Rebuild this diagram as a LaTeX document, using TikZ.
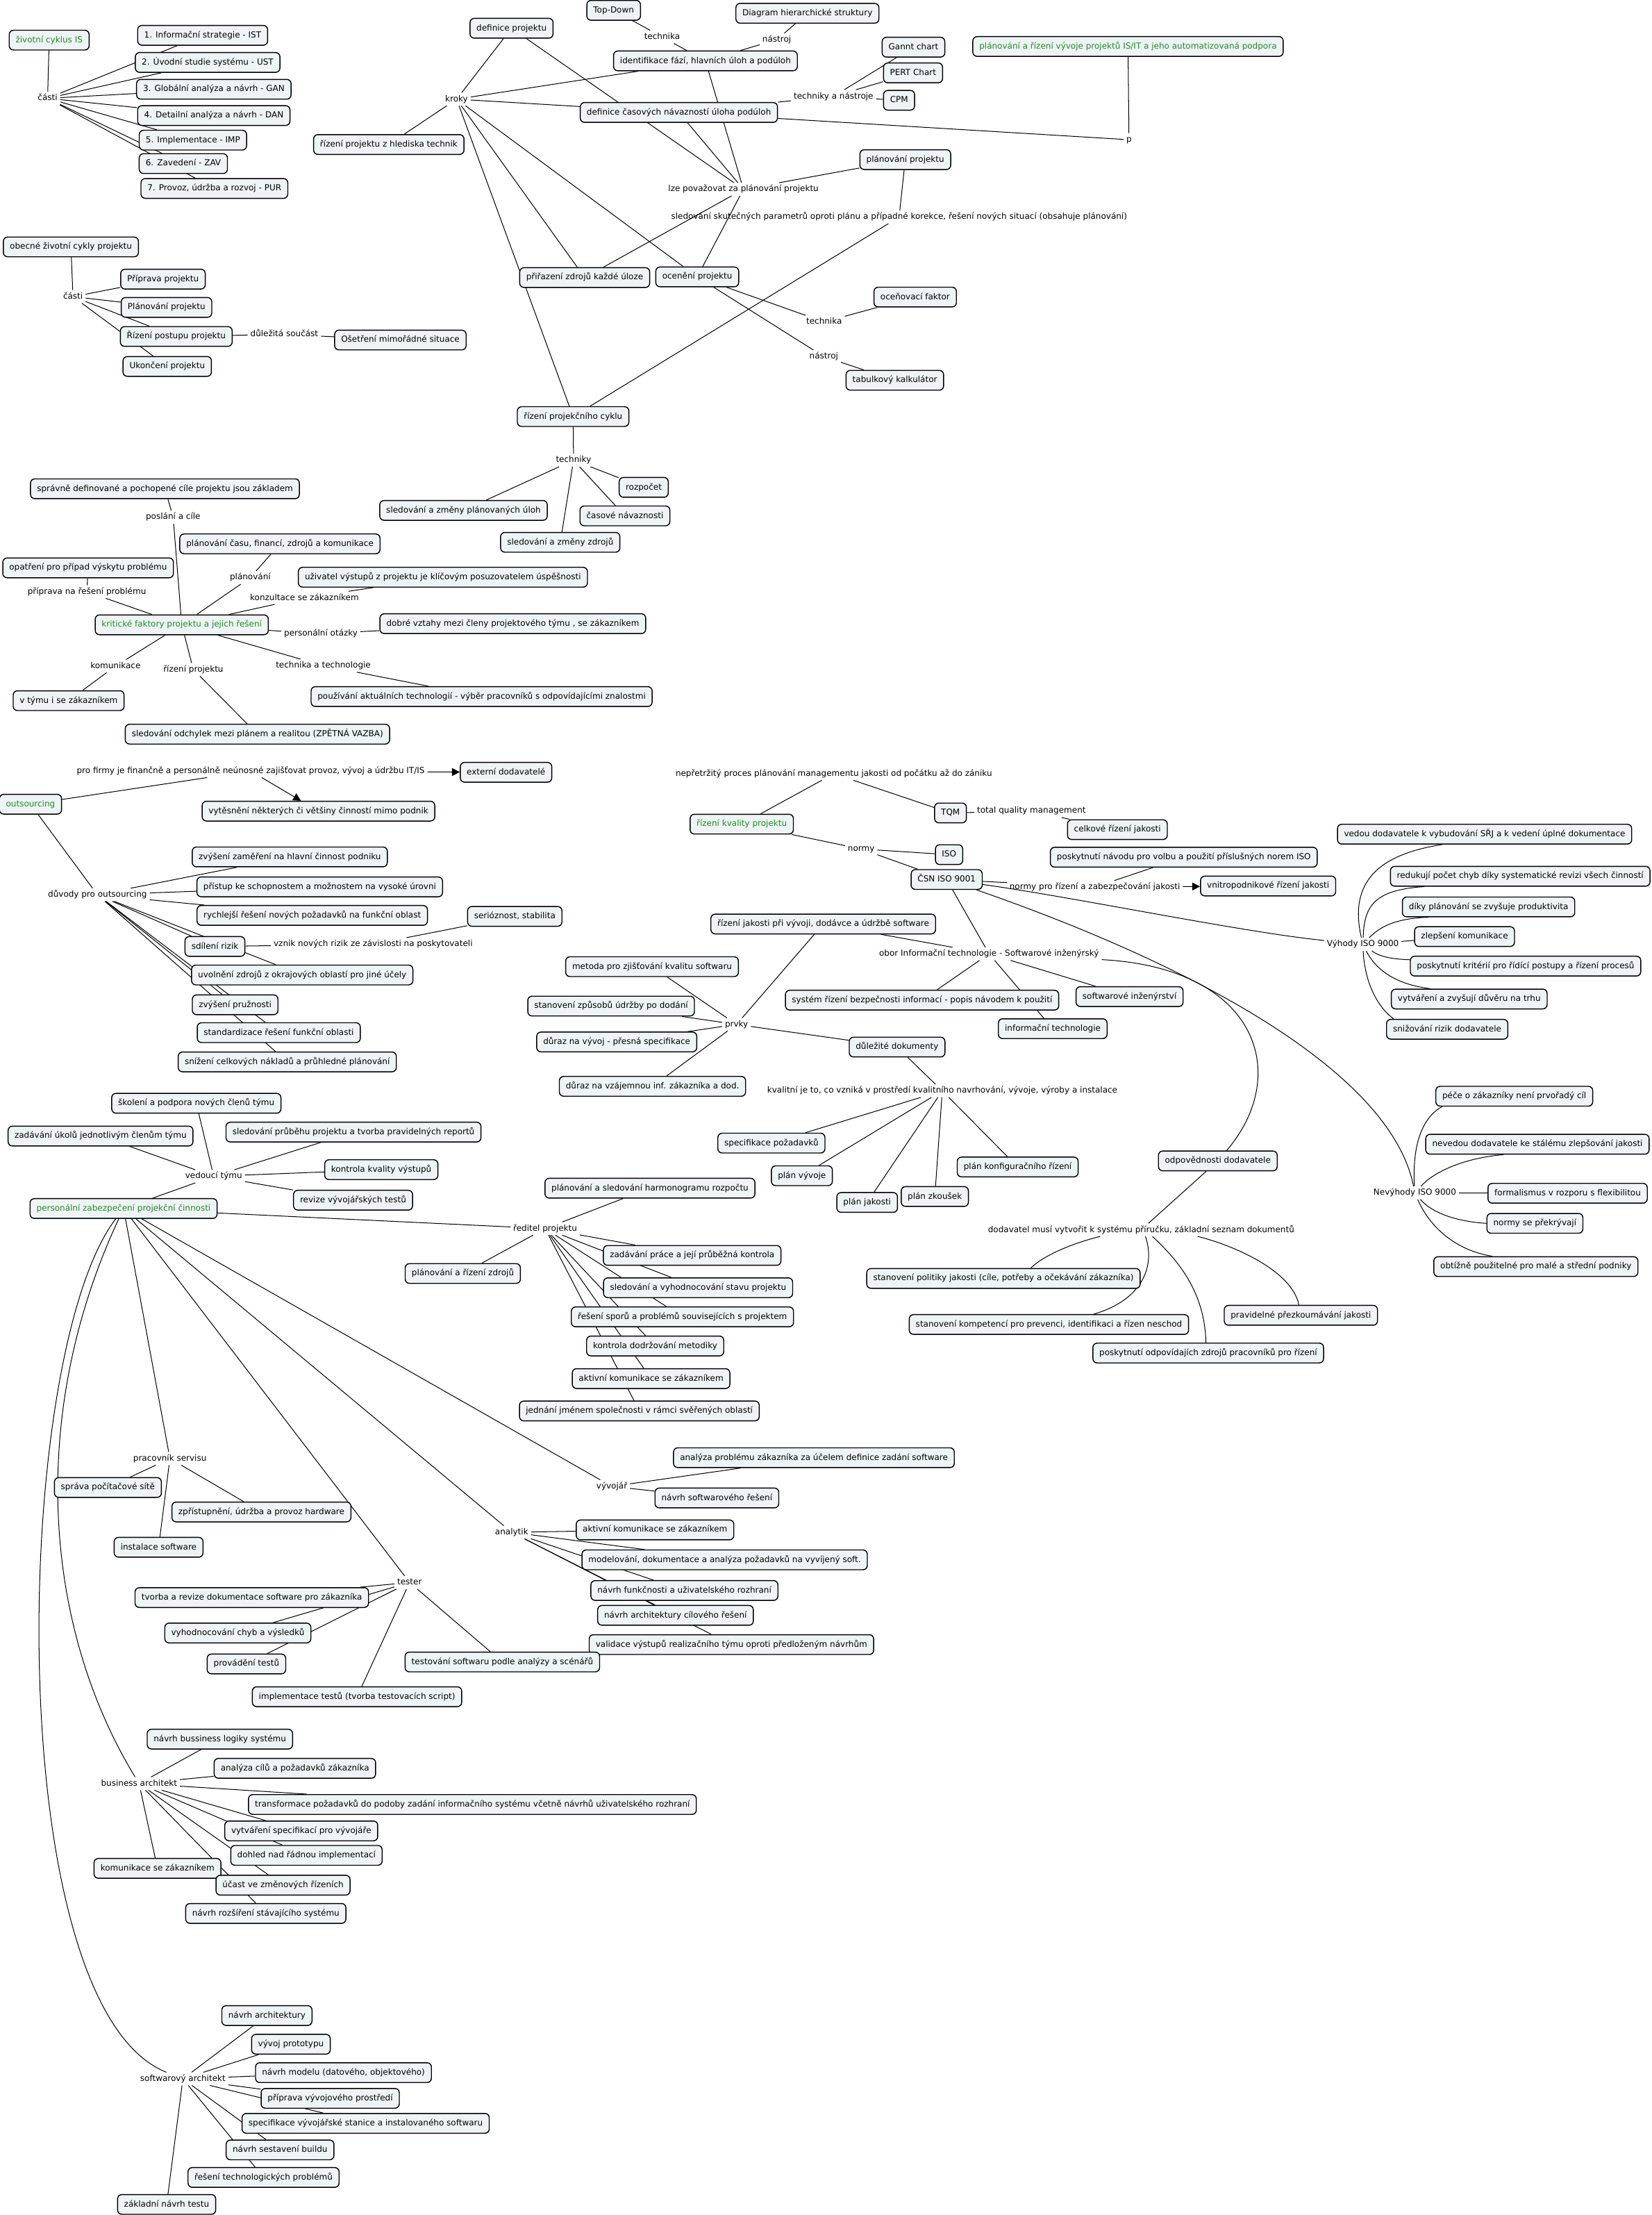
\documentclass[tikz,border=0pt]{standalone}
\usepackage{fontspec}
\setmainfont{DejaVu Sans}
\usetikzlibrary{arrows.meta}
\definecolor{boxfill}{RGB}{238,244,245}
\definecolor{rootgreen}{RGB}{34,139,34}
\newcommand\mapfont{\fontsize{5.9}{7}\selectfont}
\pgfdeclarelayer{edgelayer}
\pgfsetlayers{edgelayer,main}
\tikzset{
  box/.style={draw=black, line width=0.7pt, rounded corners=3pt, fill=boxfill, inner xsep=4.6pt, inner ysep=0pt, minimum height=14pt, text height=4.6pt, text depth=1.3pt, font=\mapfont},
  root/.style={box, text=rootgreen},
  lbl/.style={inner xsep=1.8pt, inner ysep=1.5pt, text height=4.6pt, text depth=1.3pt, font=\mapfont},
  conn/.style={line width=0.5pt, black},
  arr/.style={conn, -{Triangle[length=5.5pt,width=5.5pt]}},
}
\begin{document}
\begin{tikzpicture}[x=1pt,y=-1pt]
\useasboundingbox (0,0) rectangle (1169.7,1568);
% ---------- A
\node[root] (zcis) at (34.8,28.4) {životní cyklus IS};
\node[lbl] (casti1) at (33.7,69.6) {části};
\node[box] (b1) at (143.5,25) {1. Informační strategie - IST};
\node[box] (b2) at (147,44.2) {2. Úvodní studie systému - UST};
\node[box] (b3) at (151.4,63.2) {3. Globální analýza a návrh - GAN};
\node[box] (b4) at (151.4,81.8) {4. Detailní analýza a návrh - DAN};
\node[box] (b5) at (136.6,99.2) {5. Implementace - IMP};
\node[box] (b6) at (129.8,115.8) {6. Zavedení - ZAV};
\node[box] (b7) at (151.8,133.4) {7. Provoz, údržba a rozvoj - PUR};
% ---------- B
\node[box] (obec) at (50.2,174.8) {obecné životní cykly projektu};
\node[lbl] (casti2) at (51.7,210) {části};
\node[box] (prip) at (115.4,197.6) {Příprava projektu};
\node[box] (plan) at (117.9,217.6) {Plánování projektu};
\node[box] (rizpost) at (124.8,238.2) {Řízení postupu projektu};
\node[box] (ukon) at (118.4,259.4) {Ukončení projektu};
\node[lbl] (dulsouc) at (201.3,236.7) {důležitá součást};
\node[box] (oset) at (283.5,240.7) {Ošetření mimořádné situace};
% ---------- C
\node[box] (defproj) at (362.2,20) {definice projektu};
\node[lbl] (kroky) at (323.3,70.2) {kroky};
\node[box] (riztech) at (275.3,102.3) {řízení projektu z hlediska technik};
\node[box] (topdown) at (434.5,7.3) {Top-Down};
\node[lbl] (tech1) at (468.8,26.1) {technika};
\node[box] (ident) at (499.5,43.1) {identifikace fází, hlavních úloh a podúloh};
\node[lbl] (nastr1) at (550,28.1) {nástroj};
\node[box] (diag) at (571.7,9.4) {Diagram hierarchické struktury};
\node[box] (defcas) at (480.7,79.6) {definice časových návazností úloha podúloh};
\node[box] (gannt) at (646.8,33.4) {Gannt chart};
\node[box] (pert) at (646.5,51.6) {PERT Chart};
\node[box] (cpm) at (636.6,71) {CPM};
\node[lbl] (tan) at (590.2,68.2) {techniky a nástroje};
\node[root] (root2) at (798.7,32.9) {plánování a řízení vývoje projektů IS/IT a jeho automatizovaná podpora};
\node[lbl] (p) at (799.4,98.9) {p};
\node[box] (planproj) at (641,113) {plánování projektu};
\node[lbl] (lze) at (526.4,134) {lze považovat za plánování projektu};
\node[lbl] (sled) at (636.6,153.7) {sledování skutečných parametrů oproti plánu a případné korekce, řešení nových situací (obsahuje plánování)};
\node[box] (prirz) at (414,196.5) {přiřazení zdrojů každé úloze};
\node[box] (ocen) at (493.7,196) {ocenění projektu};
\node[box] (ocenf) at (648,210.3) {oceňovací faktor};
\node[lbl] (tech2) at (583.5,227.9) {technika};
\node[lbl] (nastr2) at (583.3,252.4) {nástroj};
\node[box] (tabk) at (633.6,269.2) {tabulkový kalkulátor};
\node[box] (rpc) at (405.8,294.9) {řízení projekčního cyklu};
\node[lbl] (techniky) at (406.1,325.8) {techniky};
\node[box] (rozp) at (455.8,345) {rozpočet};
\node[box] (splu) at (328.2,361.3) {sledování a změny plánovaných úloh};
\node[box] (casn) at (442.5,365.2) {časové návaznosti};
\node[box] (szz) at (396.7,383.9) {sledování a změny zdrojů};
% ---------- D
\node[box] (sprav) at (116.8,346) {správně definované a pochopené cíle projektu jsou základem};
\node[lbl] (posl) at (122.6,366.1) {poslání a cíle};
\node[box] (plcas) at (198.2,385) {plánování času, financí, zdrojů a komunikace};
\node[box] (opat) at (62.4,402) {opatření pro případ výskytu problému};
\node[lbl] (plnl) at (177.2,408.9) {plánování};
\node[box] (uziv) at (313.6,408.6) {uživatel výstupů z projektu je klíčovým posuzovatelem úspěšnosti};
\node[lbl] (prpr) at (61.5,418.9) {příprava na řešení problému};
\node[lbl] (konz) at (215.6,423.2) {konzultace se zákazníkem};
\node[root] (krit) at (128.7,442.3) {kritické faktory projektu a jejich řešení};
\node[box] (dobr) at (363.1,441.5) {dobré vztahy mezi členy projektového týmu , se zákazníkem};
\node[lbl] (pers1) at (227.2,448.6) {personální otázky};
\node[lbl] (komu) at (81.8,471.5) {komunikace};
\node[lbl] (rizp) at (136.9,474) {řízení projektu};
\node[lbl] (tt) at (228.9,471.2) {technika a technologie};
\node[box] (vtym) at (48.6,496) {v týmu i se zákazníkem};
\node[box] (pouz) at (341,493.1) {používání aktuálních technologií - výběr pracovníků s odpovídajícími znalostmi};
\node[box] (sodch) at (182.3,519.7) {sledování odchylek mezi plánem a realitou (ZPĚTNÁ VAZBA)};
% ---------- E
\node[lbl] (prof) at (177.5,545.8) {pro firmy je finančně a personálně neúnosné zajišťovat provoz, vývoj a údržbu IT/IS};
\node[box] (extd) at (358.3,546.7) {externí dodavatelé};
\node[box] (vyt) at (225.5,574.2) {vytěsnění některých či většiny činností mimo podnik};
\node[root] (outs) at (21.6,569.3) {outsourcing};
\node[lbl] (duv) at (69,633.4) {důvody pro outsourcing};
\node[box] (zvz) at (205.2,606.6) {zvýšení zaměření na hlavní činnost podniku};
\node[box] (pris) at (226.4,627.8) {přístup ke schopnostem a možnostem na vysoké úrovni};
\node[box] (rych) at (221.1,648) {rychlejší řešení nových požadavků na funkční oblast};
\node[box] (serz) at (364.5,648.7) {serióznost, stabilita};
\node[box] (sdil) at (152.2,670) {sdílení rizik};
\node[lbl] (vzn) at (264.2,668.4) {vznik nových rizik ze závislosti na poskytovateli};
\node[box] (uvol) at (214,690.2) {uvolnění zdrojů z okrajových oblastí pro jiné účely};
\node[box] (zvpr) at (166.5,711.3) {zvýšení pružnosti};
\node[box] (stdz) at (197.4,731) {standardizace řešení funkční oblasti};
\node[box] (sniz) at (203.4,751.7) {snížení celkových nákladů a průhledné plánování};
% ---------- F
\node[lbl] (nepr) at (590.4,547.7) {nepřetržitý proces plánování managementu jakosti od počátku až do zániku};
\node[root] (rkp) at (525.2,583.4) {řízení kvality projektu};
\node[box] (tqm) at (673,575.5) {TQM};
\node[lbl] (tqmt) at (730.3,574.1) {total quality management};
\node[box] (celk) at (791.2,587.3) {celkové řízení jakosti};
\node[lbl] (normy) at (609.8,601) {normy};
\node[box] (iso) at (672,605) {ISO};
\node[box] (csn) at (670.3,622.6) {ČSN ISO 9001};
\node[box] (posn) at (838.2,606.8) {poskytnutí návodu pro volbu a použití příslušných norem ISO};
\node[lbl] (npr) at (775.2,628) {normy pro řízení a zabezpečování jakosti};
\node[box] (vnit) at (897.9,627.2) {vnitropodnikové řízení jakosti};
\node[box] (rjv) at (582.9,654.1) {řízení jakosti při vývoji, dodávce a údržbě software};
\node[lbl] (obor) at (700.3,675.2) {obor Informační technologie - Softwarové inženýrský};
\node[box] (sysr) at (652.9,708) {systém řízení bezpečnosti informací - popis návodem k použití};
\node[box] (swin) at (799.8,705.5) {softwarové inženýrství};
\node[box] (inft) at (745.4,728.2) {informační technologie};
\node[lbl] (prvky) at (521.5,725.2) {prvky};
\node[box] (duld) at (635.2,741.2) {důležité dokumenty};
\node[lbl] (kval) at (667.2,772.2) {kvalitní je to, co vzniká v prostředí kvalitního navrhování, vývoje, výroby a instalace};
\node[box] (specp) at (546.2,809.2) {specifikace požadavků};
\node[box] (plvy) at (567.8,832.3) {plán vývoje};
\node[box] (plkon) at (720.6,826.1) {plán konfiguračního řízení};
\node[box] (pljak) at (614,851.2) {plán jakosti};
\node[box] (plzk) at (661.9,847) {plán zkoušek};
\node[box] (meto) at (461.7,684.3) {metoda pro zjišťování kvalitu softwaru};
\node[box] (stzu) at (432.7,712.2) {stanovení způsobů údržby po dodání};
\node[box] (durv) at (436.7,737.6) {důraz na vývoj - přesná specifikace};
\node[box] (durz) at (462,769) {důraz na vzájemnou inf. zákazníka a dod.};
\node[lbl] (vyh) at (965,668.5) {Výhody ISO 9000};
\node[box] (vedou) at (1051.2,590.5) {vedou dodavatele k vybudování SŘJ a k vedení úplné dokumentace};
\node[box] (reduk) at (1076.4,620.3) {redukují počet chyb díky systematické revizi všech činností};
\node[box] (dikyp) at (1054,642) {díky plánování se zvyšuje produktivita};
\node[box] (zlep) at (1037,663) {zlepšení komunikace};
\node[box] (poskr) at (1080.2,683.9) {poskytnutí kritérií pro řídící postupy a řízení procesů};
\node[box] (vytv) at (1040.3,707.2) {vytváření a zvyšují důvěru na trhu};
\node[box] (snir) at (1024.7,728.6) {snižování rizik dodavatele};
\node[box] (pece) at (1072.2,776) {péče o zákazníky není prvořadý cíl};
\node[box] (nevd) at (1088.6,810) {nevedou dodavatele ke stálému zlepšování jakosti};
\node[lbl] (nevy) at (1001.8,844.4) {Nevýhody ISO 9000};
\node[box] (form) at (1110,844.7) {formalismus v rozporu s flexibilitou};
\node[box] (nsp) at (1086.8,866) {normy se překrývají};
\node[box] (obti) at (1087.5,896.6) {obtížně použitelné pro malé a střední podniky};
\node[box] (odpd) at (862.3,821.8) {odpovědnosti dodavatele};
\node[lbl] (dodm) at (808,870.6) {dodavatel musí vytvořit k systému příručku, základní seznam dokumentů};
\node[box] (stpol) at (710.5,905) {stanovení politiky jakosti (cíle, potřeby a očekávání zákazníka)};
\node[box] (stkom) at (742.7,937.6) {stanovení kompetencí pro prevenci, identifikaci a řízen neschod};
\node[box] (prav) at (921.1,931.1) {pravidelné přezkoumávání jakosti};
\node[box] (poso) at (855.5,957.8) {poskytnutí odpovídajích zdrojů pracovníků pro řízení};
% ---------- G
\node[box] (skol) at (139,781) {školení a podpora nových členů týmu};
\node[box] (zaduk) at (71.2,804.2) {zadávání úkolů jednotlivým členům týmu};
\node[box] (sledpr) at (250.3,801.4) {sledování průběhu projektu a tvorba pravidelných reportů};
\node[box] (kontk) at (270,828) {kontrola kvality výstupů};
\node[lbl] (vedt) at (151.3,832.7) {vedoucí týmu};
\node[box] (revt) at (250,849.6) {revize vývojářských testů};
\node[root] (pzpc) at (87.5,855.5) {personální zabezpečení projekční činnosti};
\node[box] (harm) at (460.2,841.1) {plánování a sledování harmonogramu rozpočtu};
\node[lbl] (redp) at (386,869.7) {ředitel projektu};
\node[box] (plrz) at (327.7,901.5) {plánování a řízení zdrojů};
\node[box] (zadp) at (490.1,888.7) {zadávání práce a její průběžná kontrola};
\node[box] (sledv) at (494.3,911.6) {sledování a vyhodnocování stavu projektu};
\node[box] (resp) at (483.2,932.2) {řešení sporů a problémů souvisejících s projektem};
\node[box] (kdm) at (463.9,952.8) {kontrola dodržování metodiky};
\node[box] (akz1) at (461,975.9) {aktivní komunikace se zákazníkem};
\node[box] (jedn) at (452.7,998.8) {jednání jménem společnosti v rámci svěřených oblastí};
\node[lbl] (pserv) at (120.3,1032.5) {pracovník servisu};
\node[box] (sprs) at (76.4,1053) {správa počítačové sítě};
\node[box] (zpri) at (185.1,1070.3) {zpřístupnění, údržba a provoz hardware};
\node[box] (inst) at (112.3,1095.3) {instalace software};
\node[box] (anpr) at (576.3,1031.9) {analýza problému zákazníka za účelem definice zadání software};
\node[lbl] (vyvoj) at (433.2,1052.2) {vývojář};
\node[box] (nsr) at (507.6,1060.4) {návrh softwarového řešení};
\node[lbl] (anal) at (362.3,1084.7) {analytik};
\node[box] (akz2) at (463.8,1083) {aktivní komunikace se zákazníkem};
\node[box] (model) at (513.1,1104.2) {modelování, dokumentace a analýza požadavků na vyvíjený soft.};
\node[lbl] (tester) at (290,1120.2) {tester};
\node[box] (tvrd) at (178.3,1130.9) {tvorba a revize dokumentace software pro zákazníka};
\node[box] (nfur) at (484.6,1125.9) {návrh funkčnosti a uživatelského rozhraní};
\node[box] (nacr) at (478.3,1143.5) {návrh architektury cílového řešení};
\node[box] (vyhch) at (168.4,1156) {vyhodnocování chyb a výsledků};
\node[box] (valid) at (517.9,1164.2) {validace výstupů realizačního týmu oproti předloženým návrhům};
\node[box] (prov) at (174.5,1177.9) {provádění testů};
\node[box] (tests) at (355.7,1176.5) {testování softwaru podle analýzy a scénářů};
\node[box] (impl) at (252.8,1201.1) {implementace testů (tvorba testovacích script)};
\node[box] (nbl) at (155.7,1231.1) {návrh bussiness logiky systému};
\node[box] (ancp) at (208.8,1251.8) {analýza cílů a požadavků zákazníka};
\node[lbl] (busa) at (98.5,1262.6) {business architekt};
\node[box] (trans) at (334.5,1277.4) {transformace požadavků do podoby zadání informačního systému včetně návrhů uživatelského rozhraní};
\node[box] (vytsp) at (213.3,1296.1) {vytváření specifikací pro vývojáře};
\node[box] (dohl) at (217,1313.4) {dohled nad řádnou implementací};
\node[box] (kosz) at (111.5,1322.6) {komunikace se zákazníkem};
\node[box] (ucast) at (200.4,1334.5) {účast ve změnových řízeních};
\node[box] (nrss) at (188.2,1354.5) {návrh rozšíření stávajícího systému};
\node[box] (narch) at (189,1426.8) {návrh architektury};
\node[box] (vprot) at (206,1447.1) {vývoj prototypu};
\node[box] (nmod) at (243.2,1467.2) {návrh modelu (datového, objektového)};
\node[lbl] (swa) at (129.5,1471.6) {softwarový architekt};
\node[box] (pvp) at (233.8,1485.4) {příprava vývojového prostředí};
\node[box] (svs) at (258.9,1503.1) {specifikace vývojářské stanice a instalovaného softwaru};
\node[box] (nsb) at (198.3,1521.9) {návrh sestavení buildu};
\node[box] (rtp) at (186.6,1541.4) {řešení technologických problémů};
\node[box] (znt) at (118,1560.5) {základní návrh testu};
% ================= connectors
\begin{pgfonlayer}{edgelayer}
\fill[white] (0,0) rectangle (1169.7,1568);
\foreach \a/\b in {zcis/casti1, casti1/b1, casti1/b2, casti1/b3, casti1/b4, casti1/b5, casti1/b6, casti1/b7,
  obec/casti2, casti2/prip, casti2/plan, casti2/rizpost, casti2/ukon, rizpost/dulsouc, dulsouc/oset}
  \draw[conn] (\a) -- (\b);
\foreach \a/\b in {kroky/defproj, kroky/ident, kroky/defcas, kroky/riztech, kroky/prirz, kroky/ocen, kroky/rpc,
  topdown/tech1, tech1/ident, ident/nastr1, nastr1/diag,
  defcas/tan, tan/gannt, tan/pert, tan/cpm, defcas/p, p/root2,
  lze/defproj, lze/ident, lze/defcas, lze/prirz, lze/ocen, lze/planproj,
  sled/planproj, sled/rpc,
  ocen/tech2, tech2/ocenf, ocen/nastr2, nastr2/tabk,
  rpc/techniky, techniky/rozp, techniky/splu, techniky/casn, techniky/szz}
  \draw[conn] (\a) -- (\b);
\foreach \a/\b in {krit/posl, posl/sprav, krit/prpr, prpr/opat, krit/plnl, plnl/plcas, krit/konz, konz/uziv,
  krit/pers1, pers1/dobr, krit/komu, komu/vtym, krit/rizp, rizp/sodch, krit/tt, tt/pouz,
  outs/prof, outs/duv, duv/zvz, duv/pris, duv/rych, duv/sdil, duv/uvol, duv/zvpr, duv/stdz, duv/sniz,
  sdil/vzn, vzn/serz}
  \draw[conn] (\a) -- (\b);
\foreach \a/\b in {rkp/nepr, nepr/tqm, tqm/tqmt, tqmt/celk, rkp/normy, normy/iso, normy/csn, csn/npr, npr/posn,
  csn/obor, obor/rjv, obor/sysr, obor/inft, obor/swin, rjv/prvky,
  prvky/meto, prvky/stzu, prvky/durv, prvky/durz, prvky/duld, duld/kval,
  kval/specp, kval/plvy, kval/pljak, kval/plzk, kval/plkon, vyh/zlep, nevy/form, odpd/dodm}
  \draw[conn] (\a) -- (\b);
\foreach \a/\b in {pzpc/vedt, vedt/skol, vedt/zaduk, vedt/sledpr, vedt/kontk, vedt/revt,
  pzpc/redp, redp/harm, redp/plrz, redp/zadp, redp/sledv, redp/resp, redp/kdm, redp/akz1, redp/jedn,
  pzpc/pserv, pserv/sprs, pserv/zpri, pserv/inst,
  pzpc/vyvoj, vyvoj/anpr, vyvoj/nsr,
  pzpc/anal, anal/akz2, anal/model, anal/nfur, anal/nacr, anal/valid,
  pzpc/tester, tester/tvrd, tester/vyhch, tester/prov, tester/tests, tester/impl,
  busa/nbl, busa/ancp, busa/trans, busa/vytsp, busa/dohl, busa/kosz, busa/ucast, busa/nrss,
  swa/narch, swa/vprot, swa/nmod, swa/pvp, swa/svs, swa/nsb, swa/rtp, swa/znt}
  \draw[conn] (\a) -- (\b);
% arrows
\draw[arr] (prof) -- (extd);
\draw[arr] (prof) -- (vyt);
\draw[arr] (npr) -- (vnit);
% curves
\draw[conn] (pzpc) .. controls (8,960) and (0,1420) .. (swa);
\draw[conn] (pzpc) .. controls (20,1000) and (30,1150) .. (busa);
\draw[conn] (csn) .. controls (760,635) and (880,660) .. (vyh);
\draw[conn] (csn) .. controls (850,685) and (985,760) .. (nevy);
\draw[conn] (obor) .. controls (890,685) and (915,760) .. (odpd);
\draw[conn] (vyh) .. controls (955,625) and (975,605) .. ([xshift=-30pt]vedou.south);
\draw[conn] (vyh) .. controls (966,642) and (972,630) .. ([xshift=-68pt]reduk.south);
\draw[conn] (vyh) .. controls (978,655) and (990,650) .. ([xshift=-42.5pt]dikyp.south);
\draw[conn] (vyh) .. controls (978,678) and (988,679) .. ([yshift=4.5pt]poskr.west);
\draw[conn] (vyh) .. controls (975,688) and (990,697) .. ([xshift=-27.7pt]vytv.north);
\draw[conn] (vyh) .. controls (966,690) and (972,710) .. ([xshift=-38pt]snir.north);
\draw[conn] (nevy) .. controls (1000,815) and (1005,792) .. ([xshift=-51pt]pece.south);
\draw[conn] (nevy) .. controls (1015,830) and (1035,820) .. ([xshift=-24pt]nevd.south);
\draw[conn] (nevy) .. controls (1015,860) and (1035,865) .. (nsp.west);
\draw[conn] (nevy) .. controls (1012,868) and (1030,885) .. ([xshift=-31pt]obti.north);
\draw[conn] ([xshift=-29pt]dodm.south) .. controls (760,880) and (740,888) .. ([xshift=19.3pt]stpol.north);
\draw[conn] ([xshift=3pt]dodm.south) .. controls (818,895) and (810,920) .. ([xshift=31.7pt]stkom.north);
\draw[conn] ([xshift=8pt]dodm.south) .. controls (835,893) and (853,915) .. ([xshift=-1.6pt]poso.north);
\draw[conn] ([xshift=40pt]dodm.south) .. controls (875,882) and (915,900) .. ([xshift=-1.4pt]prav.north);
\end{pgfonlayer}
\end{tikzpicture}
\end{document}
